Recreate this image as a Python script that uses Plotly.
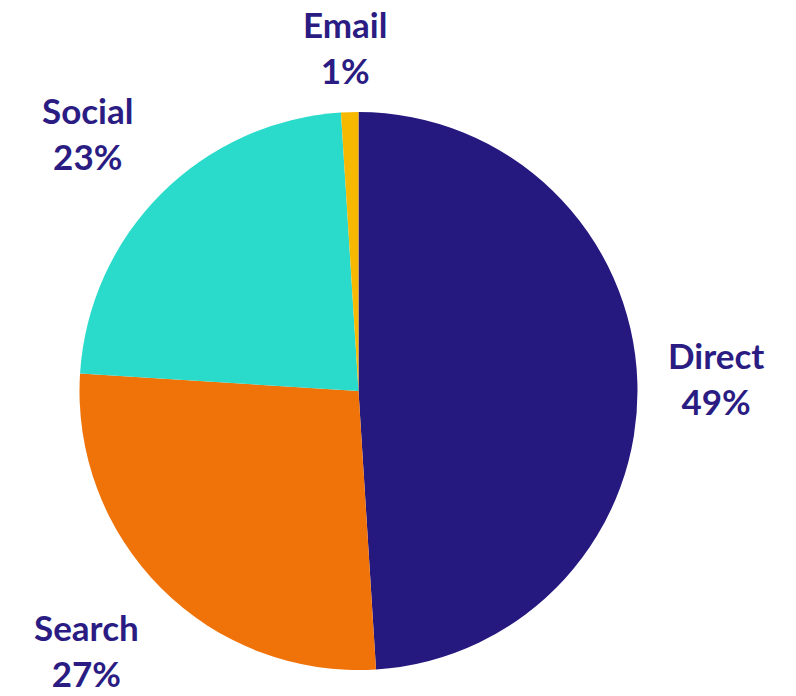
import plotly.graph_objects as go

# Traffic share by channel
channels = ["Direct", "Search", "Social", "Email"]
shares = [49, 27, 23, 1]
colors = ["#25187F", "#F0730A", "#2ADBCB", "#F7B800"]

# Label placement (paper coordinates) for each channel's text block
label_x = [1.1395, 0.0143, 0.016, 0.476]
label_y = [0.523, 0.036, 0.962, 1.1165]

text_color = "#2A1C82"
W, H = 796, 696
L, R, T, B = 79, 158, 112, 26

fig = go.Figure(
    go.Pie(
        labels=channels,
        values=shares,
        sort=False,
        direction="clockwise",
        rotation=0,
        marker=dict(colors=colors, line=dict(width=0)),
        textinfo="none",
        hoverinfo="label+percent",
        showlegend=False,
    )
)

total = sum(shares)
for name, v, x, y in zip(channels, shares, label_x, label_y):
    fig.add_annotation(
        x=x, y=y, xref="paper", yref="paper",
        text=f"<b>{name}<br>{round(100 * v / total)}%</b>",
        showarrow=False,
        xanchor="center", yanchor="middle",
        align="center",
        font=dict(family="Lato", size=35, color=text_color),
    )

fig.update_layout(
    width=W, height=H,
    margin=dict(l=L, r=R, t=T, b=B, autoexpand=False),
    paper_bgcolor="white",
    plot_bgcolor="white",
)

fig.write_html("out.html")
